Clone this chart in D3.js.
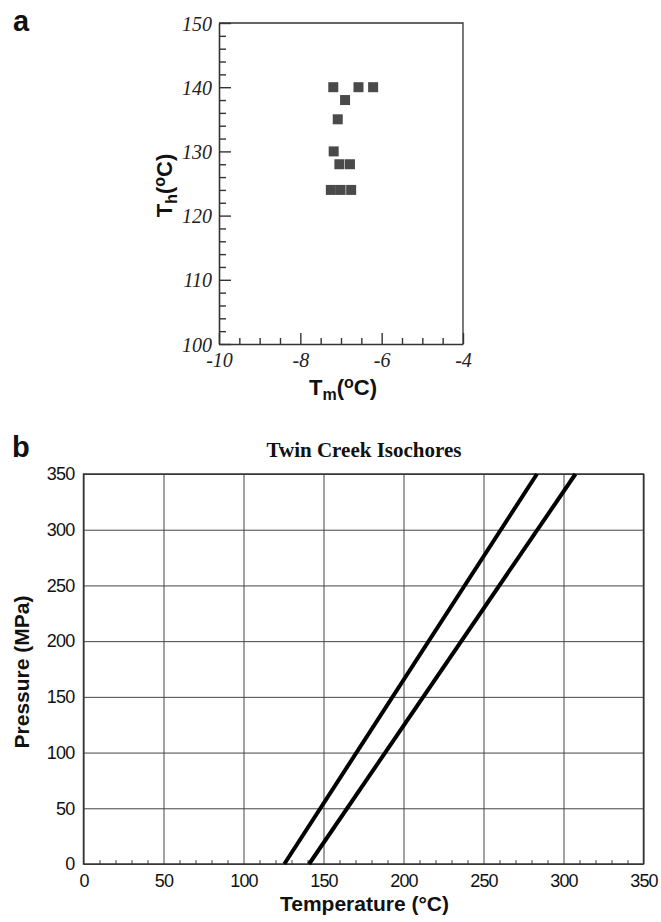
<!DOCTYPE html>
<html><head><meta charset="utf-8">
<script src="https://cdn.jsdelivr.net/npm/d3@7"></script>
<style>
html,body{margin:0;padding:0;background:#fff;}
svg{display:block;}
</style></head>
<body>
<svg id="chart" width="661" height="922"></svg>
<script>
// ---- Panel a data ----
const tmValues = [-7.19, -6.57, -6.21, -6.90, -7.08, -7.18, -7.04, -6.78, -7.25, -7.01, -6.75];
const thValues = [140, 140, 140, 138, 135, 130, 128, 128, 124, 124, 124];
const aXTicks = [-10, -8, -6, -4];
const aYTicks = [100, 110, 120, 130, 140, 150];

// ---- Panel b data ----
const bTitle = "Twin Creek Isochores";
const iso1Temp = [125.5, 283.4];
const iso1Pres = [0, 350];
const iso2Temp = [141, 307.5];
const iso2Pres = [0, 350];
const bXTicks = [0, 50, 100, 150, 200, 250, 300, 350];
const bYTicks = [0, 50, 100, 150, 200, 250, 300, 350];

const svg = d3.select("#chart");
const sans = "'Liberation Sans', Arial, Helvetica, sans-serif";
const serif = "'Liberation Serif', 'Times New Roman', serif";

// ================= Panel a =================
{
  const L = 219, R = 463, T = 23, B = 344;
  const x = d3.scaleLinear().domain([-10, -4]).range([L, R]);
  const y = d3.scaleLinear().domain([100, 150]).range([B, T]);
  const g = svg.append("g");

  g.append("path").attr("d", `M${L},${T}H${R}V${B}`).attr("fill","none").attr("stroke","#333").attr("stroke-width",1.3);

  const yMinor = d3.range(100, 150.01, 2).filter(v => v % 10 !== 0);
  const xMinor = d3.range(-10, -3.99, 0.5).filter(v => Math.abs(v % 2) > 0.01);
  g.append("g").attr("transform",`translate(${L},0)`)
    .call(d3.axisLeft(y).tickValues(yMinor).tickFormat("").tickSize(-7))
    .call(s => s.select(".domain").remove())
    .selectAll("line").attr("stroke","#333").attr("stroke-width",1.4);
  g.append("g").attr("transform",`translate(0,${B})`)
    .call(d3.axisBottom(x).tickValues(xMinor).tickFormat("").tickSize(-6))
    .call(s => s.select(".domain").remove())
    .selectAll("line").attr("stroke","#333").attr("stroke-width",1.4);

  const ya = g.append("g").attr("transform",`translate(${L},0)`)
    .call(d3.axisLeft(y).tickValues(aYTicks).tickFormat(d3.format("d")).tickSize(-12).tickPadding(7).tickSizeOuter(0));
  const xa = g.append("g").attr("transform",`translate(0,${B})`)
    .call(d3.axisBottom(x).tickValues(aXTicks).tickFormat(d => d3.format("d")(d).replace("−","-")).tickSize(-11).tickPadding(9).tickSizeOuter(0));
  [ya, xa].forEach(a => {
    a.select(".domain").attr("stroke","#333").attr("stroke-width",1.6);
    a.selectAll("line").attr("stroke","#333").attr("stroke-width",1.4);
    a.selectAll("text").attr("fill","#222").style("font-family",serif).style("font-style","italic").style("font-size","20px");
  });
  ya.selectAll("text").attr("dy","0.35em");
  xa.selectAll("text").attr("dy","0.71em");

  const sz = 10;
  g.append("g").selectAll("rect").data(tmValues.map((v,i)=>[v, thValues[i]])).join("rect")
    .attr("x", d => x(d[0]) - sz/2).attr("y", d => y(d[1]) - sz/2)
    .attr("width", sz).attr("height", sz).attr("fill","#4a4a4a");

  const xl = g.append("text").attr("x", (L+R)/2 + 2).attr("y", 395).attr("text-anchor","middle")
    .style("font-family",sans).style("font-weight","bold").style("font-size","22px").attr("fill","#111");
  xl.append("tspan").text("T");
  xl.append("tspan").attr("dy","5").style("font-size","16px").text("m");
  xl.append("tspan").attr("dy","-5").text("(");
  xl.append("tspan").attr("dy","-7").style("font-size","16px").text("o");
  xl.append("tspan").attr("dy","7").text("C)");

  const yl = g.append("text").attr("transform",`translate(172,${(T+B)/2+2}) rotate(-90)`).attr("text-anchor","middle")
    .style("font-family",sans).style("font-weight","bold").style("font-size","22px").attr("fill","#111");
  yl.append("tspan").text("T");
  yl.append("tspan").attr("dy","5").style("font-size","16px").text("h");
  yl.append("tspan").attr("dy","-5").text("(");
  yl.append("tspan").attr("dy","-7").style("font-size","16px").text("o");
  yl.append("tspan").attr("dy","7").text("C)");

  svg.append("text").attr("x",13).attr("y",31).text("a")
    .style("font-family",sans).style("font-weight","bold").style("font-size","29px").attr("fill","#111");
}

// ================= Panel b =================
{
  const L = 83.5, R = 643.5, T = 474, B = 864;
  const x = d3.scaleLinear().domain([0, 350]).range([L, R]);
  const y = d3.scaleLinear().domain([0, 350]).range([B, T]);
  const g = svg.append("g");

  g.append("g").attr("transform",`translate(0,${B})`)
    .call(d3.axisBottom(x).tickValues(bXTicks).tickFormat("").tickSize(-(B-T)))
    .call(s => s.select(".domain").remove())
    .selectAll("line").attr("stroke","#444").attr("stroke-width",1);
  g.append("g").attr("transform",`translate(${L},0)`)
    .call(d3.axisLeft(y).tickValues(bYTicks).tickFormat("").tickSize(-(R-L)))
    .call(s => s.select(".domain").remove())
    .selectAll("line").attr("stroke","#444").attr("stroke-width",1);

  g.append("g").attr("transform",`translate(0,${B})`)
    .call(d3.axisBottom(x).tickValues(d3.range(0, 351, 10).filter(v => v % 50 !== 0)).tickFormat("").tickSize(-4))
    .call(s => s.select(".domain").remove())
    .selectAll("line").attr("stroke","#444").attr("stroke-width",1);

  g.append("rect").attr("x",L).attr("y",T).attr("width",R-L).attr("height",B-T)
    .attr("fill","none").attr("stroke","#333").attr("stroke-width",1.5);

  const xa = g.append("g").attr("transform",`translate(0,${B})`)
    .call(d3.axisBottom(x).tickValues(bXTicks).tickFormat(d3.format("d")).tickSize(0).tickPadding(10));
  const ya = g.append("g").attr("transform",`translate(${L},0)`)
    .call(d3.axisLeft(y).tickValues(bYTicks).tickFormat(d3.format("d")).tickSize(0).tickPadding(9));
  [xa, ya].forEach(a => {
    a.select(".domain").remove();
    a.selectAll("text").attr("fill","#111").style("font-family",sans).style("font-size","18px").style("letter-spacing","-0.8px");
  });

  const line = d3.line().x(d => x(d[0])).y(d => y(d[1]));
  const series = [iso1Temp.map((t,i)=>[t, iso1Pres[i]]), iso2Temp.map((t,i)=>[t, iso2Pres[i]])];
  g.append("g").selectAll("path.iso").data(series).join("path")
    .attr("class","iso").attr("d", line).attr("fill","none").attr("stroke","#000").attr("stroke-width",4);

  svg.append("text").attr("x", 364).attr("y", 457).attr("text-anchor","middle").text(bTitle)
    .style("font-family",serif).style("font-weight","bold").style("font-size","21px").attr("fill","#111");
  svg.append("text").attr("x", (L+R)/2 + 1).attr("y", 911).attr("text-anchor","middle").text("Temperature (°C)")
    .style("font-family",sans).style("font-weight","bold").style("font-size","21px").attr("fill","#111");
  svg.append("text").attr("transform",`translate(29,${(T+B)/2 + 3}) rotate(-90)`).attr("text-anchor","middle").text("Pressure (MPa)")
    .style("font-family",sans).style("font-weight","bold").style("font-size","21px").attr("fill","#111");
  svg.append("text").attr("x",12).attr("y",457).text("b")
    .style("font-family",sans).style("font-weight","bold").style("font-size","29px").attr("fill","#111");
}
</script>
</body></html>
